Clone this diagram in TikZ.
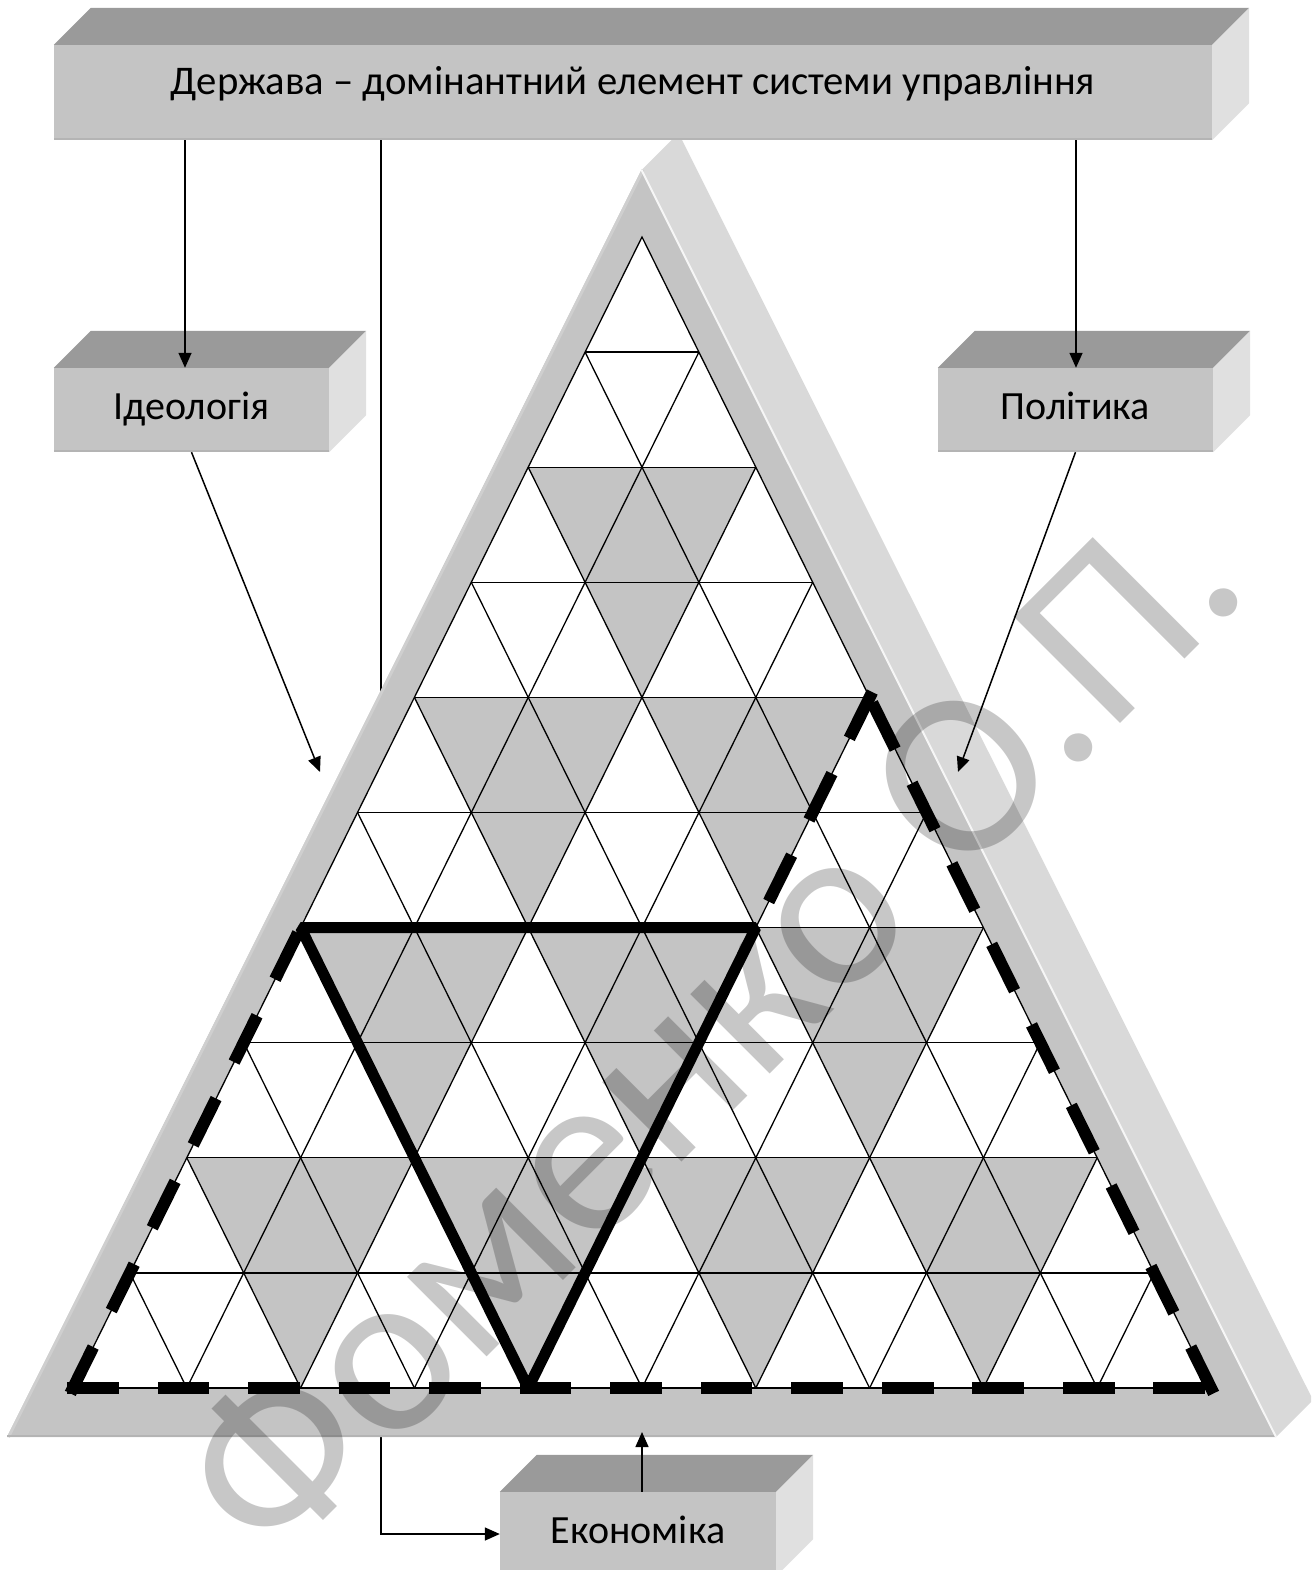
\documentclass[tikz,border=0pt]{standalone}
\usepackage{fontspec}
\setmainfont{Carlito}
\usetikzlibrary{arrows.meta}
\definecolor{frontc}{HTML}{C4C4C4}
\definecolor{topc}{HTML}{9A9A9A}
\definecolor{sidec}{HTML}{E0E0E0}
\definecolor{framesidec}{HTML}{D9D9D9}
\definecolor{edgedark}{HTML}{B4B4B4}
\definecolor{edgelight}{HTML}{CFCFCF}
\pgfdeclarelayer{bg}
\pgfsetlayers{bg,main}
\newcommand\boxfaces[1]{%
  \fill[topc] (#1.north west) -- ++(37,-37) -- ([shift={(37,-37)}]#1.north east) -- (#1.north east) -- cycle;
  \fill[sidec] (#1.north east) -- ([shift={(37,-37)}]#1.north east) -- ([shift={(37,-37)}]#1.south east) -- (#1.south east) -- cycle;
  \draw[edgedark, line width=2pt] ([yshift=1pt]#1.south west) -- ([yshift=1pt]#1.south east);
}
\begin{document}
\begin{tikzpicture}[x=1pt,y=-1pt,
  box/.style={fill=frontc, inner sep=0pt, font=\fontsize{40}{48}\selectfont, text height=26pt, text depth=8pt},
  conn/.style={line width=1.5pt},
  arr/.style={conn, -{Triangle[length=15pt,width=13pt]}},
  gridline/.style={line width=1.3pt},
  cell/.style={fill=frontc},
  dashedge/.style={line width=12pt, line cap=rect}]
\useasboundingbox (0,0) rectangle (1311,1570);
\clip (0,0) rectangle (1311,1570);

% ---------- 3D frame ----------
\coordinate (FA) at (641.5,170);
\coordinate (FL) at (7,1437);
\coordinate (FR) at (1276,1437);
\fill[framesidec] (FA) -- ++(37,-37) -- ([shift={(37,-37)}]FR) -- (FR) -- cycle;
\fill[frontc] (FA) -- (FL) -- (FR) -- cycle;
\draw[edgelight, line width=3pt] ([shift={(1.5,0)}]FA) -- ([shift={(1.5,0)}]FL);
\draw[edgedark, line width=2pt] ([yshift=1pt]FL) -- ([yshift=1pt]FR);
\draw[white!85!frontc, line width=2pt] (FA) -- (FR);

% ---------- lattice ----------
\foreach \j in {0,...,10}{
  \foreach \i in {0,...,\j}{
    \coordinate (p-\i-\j) at ({642+56.9*(2*\i-\j)},{237+115.1*\j});
  }
}
\fill[white] (p-0-0) -- (p-0-10) -- (p-10-10) -- cycle;
% grey cells
\fill[cell] (p-0-2) -- (p-2-2) -- (p-2-4) -- cycle;
\fill[cell] (p-0-4) -- (p-2-4) -- (p-2-6) -- cycle;
\fill[cell] (p-2-4) -- (p-4-4) -- (p-4-6) -- cycle;
\fill[cell] (p-0-6) -- (p-2-6) -- (p-2-8) -- cycle;
\fill[cell] (p-2-6) -- (p-4-6) -- (p-4-8) -- cycle;
\fill[cell] (p-4-6) -- (p-6-6) -- (p-6-8) -- cycle;
\fill[cell] (p-0-8) -- (p-2-8) -- (p-2-10) -- cycle;
\fill[cell] (p-2-8) -- (p-4-8) -- (p-4-10) -- cycle;
\fill[cell] (p-4-8) -- (p-6-8) -- (p-6-10) -- cycle;
\fill[cell] (p-6-8) -- (p-8-8) -- (p-8-10) -- cycle;
% grid lines
\foreach \j in {1,...,10}{ \draw[gridline] (p-0-\j) -- (p-\j-\j); }
\foreach \k in {1,...,9}{ \draw[gridline] (p-\k-\k) -- (p-\k-10); }
\foreach \k in {1,...,9}{
  \pgfmathtruncatemacro\e{10-\k}
  \draw[gridline] (p-0-\k) -- (p-\e-10);
}
\draw[gridline, line join=miter] (p-0-0) -- (p-0-10) -- (p-10-10) -- cycle;

% ---------- dashed outline ----------
\draw[dashedge, dash pattern=on 39.7pt off 52.7pt] (p-0-10) -- (p-0-6);
\draw[dashedge, dash pattern=on 39.7pt off 50.84pt] (p-0-10) -- (p-10-10);
\draw[dashedge, dash pattern=on 39.7pt off 50.14pt] (p-10-10) -- (p-4-4);
\draw[dashedge, dash pattern=on 39.7pt off 51.3pt] (p-4-4) -- (p-4-6);
% ---------- thick triangle ----------
\draw[line width=11pt, line join=bevel] (p-0-6) -- (p-4-6) -- (p-4-10) -- cycle;

% ---------- boxes ----------
\node[box, minimum width=1158pt, minimum height=95pt, font=\fontsize{40.7}{48}\selectfont, text depth=22pt] (top) at (633,92.5) {Держава – домінантний елемент системи управління};
\boxfaces{top}
\node[box, minimum width=275pt, minimum height=84pt] (ideo) at (191.5,410) {Ідеологія};
\boxfaces{ideo}
\node[box, minimum width=275pt, minimum height=84pt] (pol) at (1075.5,410) {Політика};
\boxfaces{pol}
\node[box, minimum width=276pt, minimum height=84pt] (econ) at (638,1534) {Економіка};
\boxfaces{econ}

% ---------- connectors ----------
\coordinate (xI) at (185,0);
\coordinate (xP) at (1076,0);
\coordinate (xE) at (381,0);
\coordinate (ideoTip) at (320,772);
\coordinate (polTip) at (958,772);
\coordinate (econTip) at (642,1432);
\begin{pgfonlayer}{bg}
\draw[arr] (top.south -| xE) |- (econ.west);
\end{pgfonlayer}
\draw[arr] (top.south -| xI) -- (ideo.north -| xI);
\draw[arr] (top.south -| xP) -- (pol.north -| xP);
\draw[arr] (ideo.south) -- (ideoTip);
\draw[arr] (pol.south) -- (polTip);
\draw[arr] (econ.north -| econTip) -- (econTip);

% ---------- watermark ----------
\node[opacity=0.22, rotate=45, font=\fontsize{235}{280}\selectfont, inner sep=0pt] (wm) at (708,1026) {Фоменко О.П.};
\end{tikzpicture}
\end{document}
